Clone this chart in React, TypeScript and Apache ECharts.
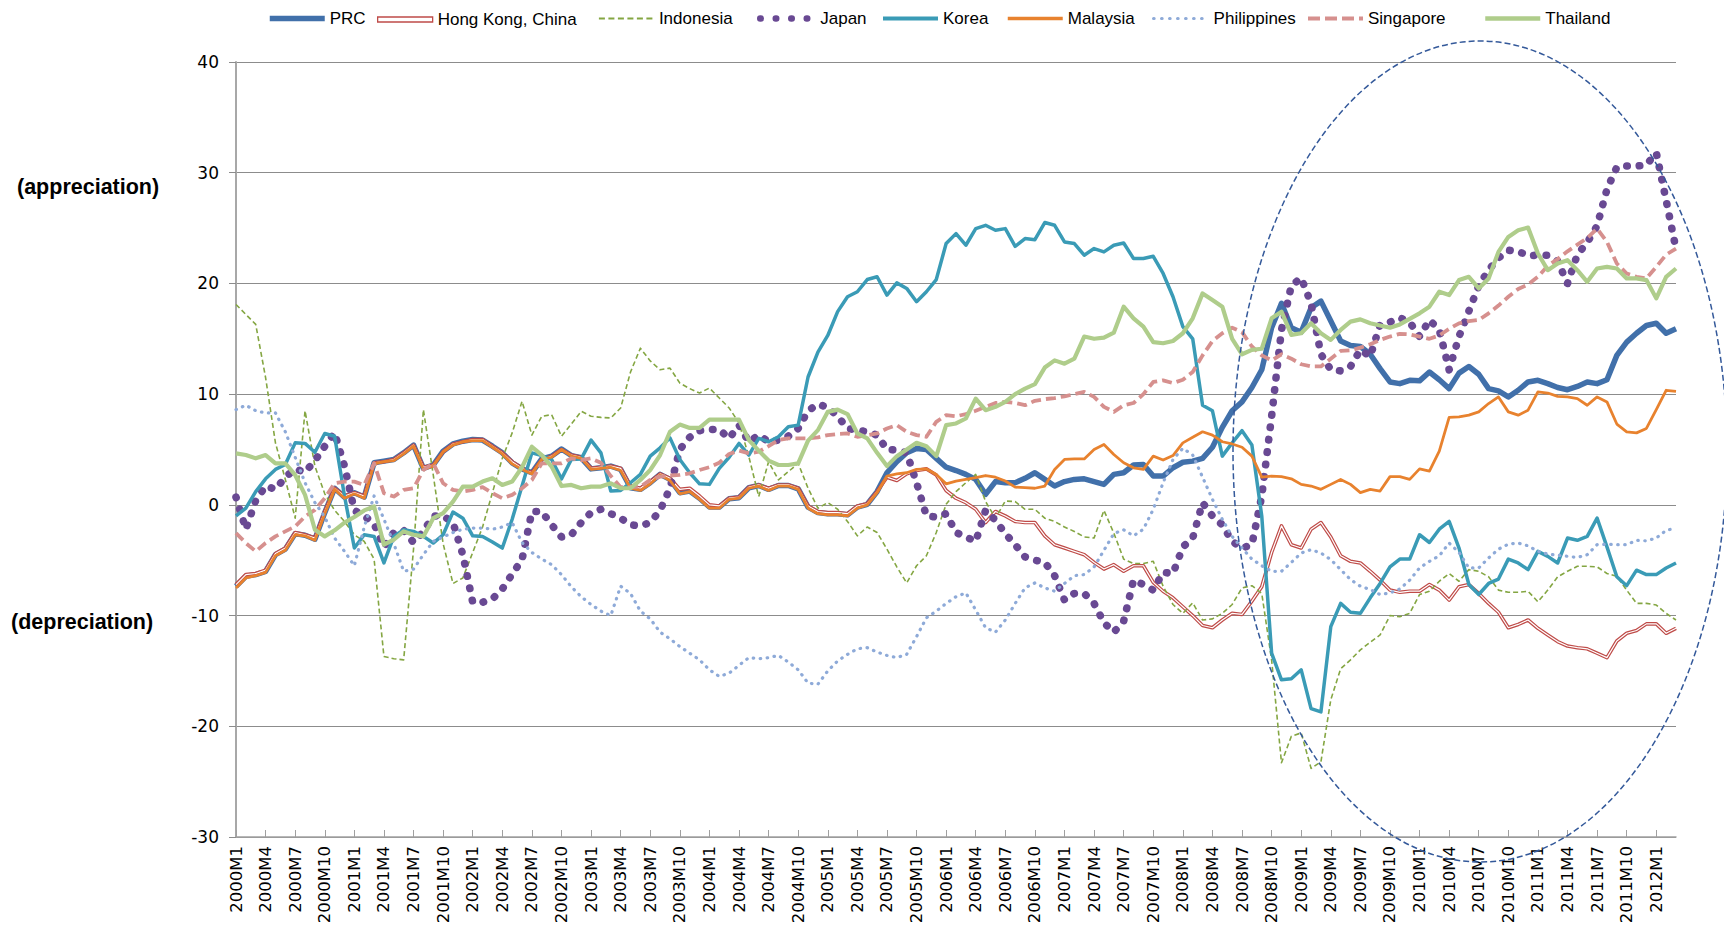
import React, { useEffect, useRef } from "react";
import * as echarts from "echarts";

// Monthly categories 2000M1 .. 2012M3
const MONTHS: string[] = [];
for (let y = 2000; y <= 2012; y++) {
  for (let m = 1; m <= 12; m++) {
    if (MONTHS.length < 147) MONTHS.push(`${y}M${m}`);
  }
}

const Y_TICKS = { min: -30, max: 40, interval: 10 };

// one row per year
const PRC = [
  -7.35, -6.45, -6.3, -6.0, -4.5, -4.0, -2.6, -2.75, -3.1, -0.7, 1.5, 0.7,
  1.1, 0.7, 3.8, 3.95, 4.1, 4.7, 5.4, 3.3, 3.6, 4.85, 5.5, 5.75,
  5.9, 5.85, 5.3, 4.7, 3.8, 3.25, 2.9, 4.15, 4.4, 5.05, 4.45, 4.25,
  3.25, 3.35, 3.5, 3.2, 1.55, 1.4, 2.0, 2.75, 2.3, 1.1, 1.25, 0.6,
  -0.2, -0.2, 0.55, 0.65, 1.55, 1.75, 1.4, 1.75, 1.75, 1.45, -0.2, -0.7,
  -0.8, -0.8, -0.9, -0.2, 0.05, 1.2, 2.9, 3.9, 4.7, 5.1, 5.0, 4.2,
  3.4, 3.1, 2.75, 2.3, 0.95, 2.1, 2.0, 2.0, 2.4, 2.9, 2.3, 1.7,
  2.1, 2.3, 2.35, 2.1, 1.85, 2.75, 2.9, 3.6, 3.65, 2.6, 2.6, 3.35,
  3.85, 3.95, 4.2, 5.2, 7.0, 8.5, 9.3, 10.6, 12.2, 16.0, 18.2, 16.0,
  15.6, 17.8, 18.4, 16.6, 14.8, 14.4, 14.3, 13.6, 12.3, 11.1, 10.95, 11.25,
  11.2, 12.0, 11.3, 10.5, 11.9, 12.5, 11.8, 10.5, 10.3, 9.75, 10.35, 11.1,
  11.25, 10.95, 10.6, 10.4, 10.7, 11.1, 10.95, 11.3, 13.5, 14.7, 15.5, 16.2,
  16.4, 15.5, 15.9,
];

const HONG_KONG = [
  -7.2, -6.3, -6.2, -5.9, -4.4, -3.9, -2.5, -2.7, -3.0, -0.6, 1.5, 0.8,
  1.1, 0.8, 3.8, 3.9, 4.1, 4.7, 5.4, 3.4, 3.6, 4.8, 5.5, 5.7,
  5.9, 5.9, 5.3, 4.7, 3.9, 3.3, 2.9, 4.1, 4.4, 5.0, 4.5, 4.3,
  3.3, 3.4, 3.5, 3.3, 1.7, 1.5, 2.1, 2.8, 2.4, 1.4, 1.5, 0.8,
  0.0, -0.1, 0.6, 0.7, 1.6, 1.8, 1.5, 1.8, 1.8, 1.5, -0.1, -0.6,
  -0.7, -0.7, -0.8, -0.1, 0.1, 1.2, 2.5, 2.2, 2.8, 3.1, 3.25, 2.7,
  1.3, 0.6, 0.2, -0.4, -1.6, -0.6, -1.0, -1.5, -1.6, -1.6, -2.8, -3.6,
  -3.9, -4.2, -4.5, -5.2, -5.8, -5.4, -6.0, -5.5, -5.5, -7.0, -7.8, -8.4,
  -9.2, -10.0, -10.9, -11.1, -10.4, -9.8, -9.9, -8.7, -7.4, -4.3, -1.9, -3.6,
  -3.9, -2.2, -1.6, -2.9, -4.6, -5.1, -5.25, -6.0, -6.8, -7.7, -7.9, -7.8,
  -7.8, -7.2, -7.7, -8.6, -7.4, -7.2, -8.0, -8.9, -9.7, -11.1, -10.8, -10.4,
  -11.15, -11.75, -12.35, -12.75, -12.9, -13.0, -13.4, -13.8, -12.3, -11.6, -11.35, -10.75,
  -10.75, -11.6, -11.15,
];

const INDONESIA = [
  18.1, 17.2, 16.3, 11.5, 5.6, 2.3, -1.2, 8.5, 3.5, 1.0, -0.5, -1.5,
  -2.7, -3.3, -4.9, -13.7, -13.9, -14.0, -4.0, 8.6, 2.7, -3.5, -7.1, -6.6,
  -4.3, -2.0, 1.1, 4.2, 6.5, 9.35, 6.3, 8.0, 8.15, 6.2, 7.3, 8.45,
  8.0, 7.9, 7.85, 8.75, 12.0, 14.15, 13.0, 12.2, 12.35, 11.0, 10.5, 10.1,
  10.55, 9.65, 8.75, 7.4, 4.35, 0.75, 3.9, 2.25, 3.0, 3.75, 1.5, -0.3,
  0.2, -0.4, -1.5, -2.8, -2.0, -2.5, -4.0, -5.6, -7.05, -5.5, -4.6, -2.5,
  0.05, 1.2, 2.0, 2.75, 0.3, -1.2, 0.35, 0.3, -0.4, -0.4, -1.2, -1.5,
  -2.0, -2.4, -2.9, -3.0, -0.5, -2.55, -4.9, -5.3, -5.3, -5.1, -7.35, -9.0,
  -9.8, -8.85, -10.4, -10.3, -9.8, -9.0, -7.5, -7.3, -8.0, -14.0, -23.3, -20.9,
  -20.6, -23.8, -23.2, -17.6, -14.8, -14.0, -13.1, -12.4, -11.75, -10.0, -10.1, -9.8,
  -8.1, -7.8, -6.9, -6.2, -6.9, -5.85, -6.0, -6.5, -7.7, -7.9, -7.9, -7.8,
  -8.75, -7.7, -6.5, -6.0, -5.55, -5.55, -5.6, -6.2, -6.45, -7.7, -8.9, -8.9,
  -9.05, -9.8, -10.4,
];

const JAPAN = [
  0.7, -2.2, 0.4, 1.7, 1.4, 2.5, 3.25, 2.95, 4.0, 5.3, 6.5, 3.5,
  -0.5, -1.0, -1.7, -3.8, -2.5, -2.3, -3.4, -2.4, -1.0, -1.0, -1.6, -4.5,
  -8.8, -8.8, -8.5, -7.6, -6.25, -4.95, -0.6, -0.6, -1.8, -2.9, -2.7, -1.6,
  -0.7, -0.4, -0.8, -1.2, -1.8, -1.9, -1.6, -0.5, 1.5, 5.0, 6.1, 6.7,
  6.8, 6.8, 6.0, 7.2, 5.7, 6.3, 5.7, 5.85, 6.2, 6.9, 8.5, 9.1,
  8.8, 8.0, 6.9, 6.75, 6.6, 6.3, 5.0, 4.95, 4.7, 2.0, -1.0, -1.1,
  -0.8, -2.5, -2.9, -3.3, -0.5, -1.4, -2.6, -3.6, -4.7, -5.0, -5.2, -6.4,
  -8.6, -8.0, -8.0, -8.9, -10.65, -11.5, -10.5, -6.8, -7.2, -7.7, -6.1, -6.2,
  -3.8, -3.0, 0.2, -1.0, -1.8, -3.3, -3.9, -3.6, 0.8, 8.0, 15.8, 19.8,
  20.5, 18.2, 13.6, 12.2, 12.1, 12.5, 14.0, 13.4, 16.3, 16.5, 16.9, 16.5,
  15.2, 16.7, 15.8, 12.2, 15.2, 17.5, 19.8, 21.2, 22.3, 23.0, 22.9, 22.5,
  22.55, 22.55, 22.0, 20.0, 22.6, 23.7, 25.2, 28.5, 30.5, 30.6, 30.6, 30.7,
  31.8, 27.5, 23.1,
];

const KOREA = [
  -1.0, -0.3, 1.2, 2.35, 3.2, 3.65, 5.6, 5.55, 4.75, 6.45, 6.2, 0.8,
  -3.9, -2.7, -2.85, -5.25, -2.85, -2.25, -2.4, -2.85, -3.45, -2.7, -0.65, -1.2,
  -2.8, -2.85, -3.35, -3.9, -1.3, 1.7, 4.7, 4.45, 4.1, 2.35, 4.1, 4.15,
  5.85, 4.7, 1.25, 1.3, 2.0, 2.75, 4.4, 5.15, 6.05, 4.1, 2.9, 1.9,
  1.85, 3.3, 4.3, 5.55, 4.5, 6.0, 5.7, 6.15, 7.05, 7.2, 11.55, 13.8,
  15.3, 17.45, 18.8, 19.25, 20.35, 20.6, 18.95, 20.05, 19.55, 18.35, 19.25, 20.35,
  23.6, 24.5, 23.45, 24.95, 25.25, 24.8, 24.95, 23.35, 24.05, 23.95, 25.5, 25.25,
  23.75, 23.6, 22.55, 23.15, 22.85, 23.45, 23.65, 22.25, 22.25, 22.45, 20.9, 18.8,
  16.1, 15.0, 9.0, 8.5, 4.4, 5.6, 6.7, 5.4, -1.0, -13.4, -15.8, -15.7,
  -14.9, -18.4, -18.7, -11.0, -8.9, -9.7, -9.8, -8.4, -7.1, -5.6, -4.9, -4.9,
  -2.7, -3.4, -2.2, -1.5, -3.9, -7.2, -8.1, -7.1, -6.7, -4.9, -5.25, -5.85,
  -4.2, -4.65, -5.25, -3.0, -3.2, -2.85, -1.2, -3.8, -6.5, -7.3, -5.9, -6.3,
  -6.3, -5.7, -5.25,
];

const MALAYSIA = [
  -7.5, -6.6, -6.4, -6.1, -4.6, -4.1, -2.7, -2.8, -3.2, -0.8, 1.4, 0.6,
  1.0, 0.6, 3.7, 3.9, 4.0, 4.6, 5.3, 3.2, 3.5, 4.8, 5.4, 5.7,
  5.8, 5.8, 5.2, 4.6, 3.7, 3.2, 2.8, 4.1, 4.3, 5.0, 4.4, 4.2,
  3.2, 3.3, 3.4, 3.1, 1.5, 1.3, 1.9, 2.7, 2.2, 1.0, 1.2, 0.5,
  -0.3, -0.3, 0.5, 0.6, 1.5, 1.7, 1.3, 1.7, 1.7, 1.4, -0.3, -0.8,
  -0.9, -0.9, -1.0, -0.3, 0.0, 1.1, 2.6, 2.8, 2.9, 3.2, 3.25, 2.75,
  1.9, 2.15, 2.3, 2.45, 2.65, 2.5, 2.15, 1.6, 1.55, 1.5, 1.7, 3.2,
  4.1, 4.15, 4.15, 5.0, 5.45, 4.55, 3.8, 3.35, 3.2, 4.4, 4.05, 4.45,
  5.6, 6.1, 6.6, 6.3, 5.7, 5.5, 5.2, 4.4, 2.5, 2.6, 2.55, 2.35,
  1.85, 1.7, 1.4, 1.85, 2.3, 1.85, 1.1, 1.4, 1.25, 2.55, 2.55, 2.3,
  3.25, 3.05, 4.85, 7.9, 7.95, 8.1, 8.4, 9.15, 9.75, 8.4, 8.1, 8.55,
  10.2, 10.1, 9.8, 9.75, 9.6, 9.0, 9.75, 9.3, 7.3, 6.6, 6.5, 6.9,
  8.6, 10.35, 10.25,
];

const PHILIPPINES = [
  8.6, 9.0, 8.5, 8.3, 8.3, 6.6, 4.3, 2.0, 0.2, -1.1, -3.0, -4.2,
  -5.5, -2.0, 0.8, -1.3, -3.5, -6.0, -5.8, -4.5, -3.3, -2.9, -2.5, -2.2,
  -2.1, -2.1, -2.2, -2.0, -1.6, -3.4, -4.3, -4.9, -5.4, -6.3, -7.4, -8.3,
  -9.0, -9.6, -10.0, -7.35, -8.0, -9.6, -10.3, -11.5, -12.1, -12.8, -13.4, -14.0,
  -14.9, -15.5, -15.2, -14.5, -13.8, -13.9, -13.8, -13.6, -14.2, -14.9, -16.1, -16.2,
  -15.0, -14.1, -13.5, -13.0, -12.9, -13.3, -13.6, -13.8, -13.5, -11.9, -10.2, -9.6,
  -8.9, -8.3, -7.95, -9.5, -11.1, -11.5, -10.4, -8.9, -7.5, -7.05, -7.5, -7.8,
  -7.1, -6.4, -6.3, -5.6, -4.1, -2.6, -2.25, -2.8, -2.2, -0.4, 2.0, 4.1,
  5.1, 4.5, 2.5, 0.5, -1.3, -2.85, -3.9, -4.9, -5.5, -6.0, -6.0, -5.2,
  -4.35, -4.05, -4.35, -4.95, -5.85, -6.75, -7.35, -7.65, -8.1, -7.95, -7.6, -6.8,
  -5.7, -5.1, -4.6, -3.45, -4.3, -5.7, -5.7, -4.8, -4.0, -3.55, -3.45, -3.7,
  -4.2, -4.45, -4.55, -4.65, -4.75, -4.5, -3.6, -3.55, -3.6, -3.6, -3.2, -3.25,
  -3.0, -2.3, -2.1,
];

const SINGAPORE = [
  -2.55, -3.45, -4.2, -3.45, -2.85, -2.4, -1.95, -1.05, -0.45, 0.6, 1.95, 2.1,
  2.1, 1.8, 3.75, 1.05, 0.75, 1.35, 1.5, 3.15, 3.75, 1.95, 1.35, 1.2,
  1.35, 1.6, 1.05, 0.6, 0.9, 1.5, 2.25, 3.75, 3.75, 3.75, 4.2, 4.05,
  4.2, 3.8, 2.6, 1.6, 1.6, 1.65, 2.25, 2.55, 2.65, 2.7, 2.85, 3.15,
  3.4, 3.8, 4.6, 4.9, 4.65, 4.8, 5.3, 5.85, 6.0, 6.0, 6.0, 6.1,
  6.3, 6.4, 6.45, 6.15, 6.3, 6.45, 6.9, 7.2, 6.6, 6.3, 6.15, 7.5,
  8.1, 8.0, 8.2, 8.5, 8.85, 9.2, 9.3, 9.2, 9.0, 9.4, 9.55, 9.65,
  9.8, 10.0, 10.2, 9.75, 8.85, 8.4, 9.0, 9.2, 10.0, 11.1, 11.25, 11.0,
  11.3, 12.0, 13.5, 14.8, 15.5, 16.0, 15.6, 14.3, 13.5, 13.05, 13.6, 13.2,
  12.7, 12.5, 12.5, 13.2, 13.9, 13.95, 14.2, 14.5, 14.9, 15.2, 15.45, 15.4,
  15.2, 15.0, 15.3, 15.9, 16.4, 16.6, 16.7, 17.3, 18.0, 18.8, 19.5, 19.9,
  20.6, 21.6, 22.2, 22.9, 23.5, 24.1, 24.95, 23.75, 21.8, 20.9, 20.6, 20.45,
  21.5, 22.6, 23.15,
];

const THAILAND = [
  4.65, 4.5, 4.2, 4.5, 3.75, 3.75, 2.7, 0.9, -2.25, -2.85, -2.3, -1.6,
  -1.1, -0.5, -0.15, -3.6, -3.15, -2.4, -2.7, -2.85, -1.2, -0.75, 0.3, 1.65,
  1.65, 2.1, 2.4, 1.8, 2.1, 3.4, 5.25, 4.5, 3.45, 1.7, 1.8, 1.5,
  1.65, 1.65, 1.95, 1.5, 1.5, 2.25, 3.15, 4.5, 6.6, 7.25, 6.95, 6.95,
  7.7, 7.7, 7.7, 7.7, 5.85, 4.9, 4.0, 3.6, 3.6, 3.75, 5.8, 6.75,
  8.4, 8.6, 8.2, 6.45, 6.0, 4.7, 3.5, 4.4, 5.0, 5.6, 5.3, 4.4,
  7.2, 7.35, 7.8, 9.6, 8.55, 8.85, 9.3, 10.0, 10.5, 10.9, 12.4, 13.05,
  12.75, 13.2, 15.2, 15.0, 15.1, 15.55, 17.9, 16.85, 16.1, 14.7, 14.6, 14.8,
  15.5, 16.85, 19.1, 18.5, 17.9, 15.0, 13.6, 14.0, 14.1, 16.85, 17.45, 15.35,
  15.5, 16.4, 15.5, 14.9, 15.8, 16.55, 16.75, 16.4, 16.2, 16.0, 16.3, 16.8,
  17.3, 17.9, 19.25, 18.95, 20.3, 20.6, 19.55, 20.45, 22.85, 24.2, 24.8, 25.05,
  22.7, 21.2, 21.8, 22.1, 21.2, 20.15, 21.35, 21.5, 21.35, 20.45, 20.45, 20.3,
  18.65, 20.6, 21.35,
];

const AXIS_FONT = "DejaVu Sans";
const LEGEND_FONT = "Liberation Sans";

type Def = {
  name: string;
  data: number[];
  color: string;
  width: number;
  type?: any;
  cap?: "butt" | "round";
  legendLeft: number;
  legendType?: any;
  legendWidth?: number;
};

const DEFS: Def[] = [
  { name: "PRC", data: PRC, color: "#4170aa", width: 5.5, legendLeft: 267 },
  { name: "Hong Kong, China", data: HONG_KONG, color: "#bf4b48", width: 3.6, legendLeft: 377 },
  { name: "Indonesia", data: INDONESIA, color: "#84a642", width: 1.6, type: [5, 3], legendLeft: 598, legendType: [6, 3.5], legendWidth: 1.8 },
  { name: "Japan", data: JAPAN, color: "#694993", width: 7.6, type: [0.5, 12], cap: "round", legendLeft: 757, legendType: [0.5, 15], legendWidth: 6.5 },
  { name: "Korea", data: KOREA, color: "#3a9bb6", width: 3.5, legendLeft: 881, legendWidth: 4 },
  { name: "Malaysia", data: MALAYSIA, color: "#e8822e", width: 2.8, legendLeft: 1006, legendWidth: 3.5 },
  { name: "Philippines", data: PHILIPPINES, color: "#8eaad8", width: 3.2, type: [0.5, 6.5], cap: "round", legendLeft: 1152, legendType: [0.5, 7.5], legendWidth: 3.2 },
  { name: "Singapore", data: SINGAPORE, color: "#d6908e", width: 3.8, type: [10, 5], legendLeft: 1306, legendType: [12, 5], legendWidth: 4 },
  { name: "Thailand", data: THAILAND, color: "#afcd8b", width: 4.2, legendLeft: 1483, legendWidth: 4.5 },
];

function buildOption(): any {
  const series: any[] = [];
  DEFS.forEach((d, idx) => {
    series.push({
      type: "line",
      name: d.name,
      data: d.data,
      symbol: "none",
      showSymbol: false,
      silent: true,
      emphasis: { disabled: true },
      itemStyle: { color: d.color },
      lineStyle: {
        color: d.color,
        width: d.width,
        type: d.type || "solid",
        cap: d.cap || "butt",
        join: "round",
      },
    });
    if (idx === 1) {
      // inner white stroke for the double line of Hong Kong, China
      series.push({
        type: "line",
        name: "HK-inner",
        data: d.data,
        symbol: "none",
        showSymbol: false,
        silent: true,
        emphasis: { disabled: true },
        itemStyle: { color: "#ffffff" },
        lineStyle: { color: "#ffffff", width: 1.2, join: "round" },
      });
    }
  });

  const legends = DEFS.map((d, idx) => {
    const base: any = {
      data: [d.name],
      left: d.legendLeft,
      top: 10,
      orient: "horizontal",
      itemWidth: 55,
      itemHeight: 18,
      itemGap: 0,
      padding: 0,
      selectedMode: false,
      textStyle: { fontFamily: LEGEND_FONT, fontSize: 17, color: "#000" },
    };
    if (idx === 1) {
      base.icon = "rect";
      base.itemHeight = 5;
      base.top = 11;
      base.itemStyle = { color: "#ffffff", borderColor: d.color, borderWidth: 1.3 };
    } else {
      base.itemStyle = { color: "transparent", opacity: 0, borderWidth: 0 };
      base.lineStyle = {
        color: d.color,
        width: d.legendWidth || d.width,
        type: d.legendType || d.type || "solid",
        cap: d.cap || "butt",
        opacity: 1,
      };
    }
    return base;
  });

  return {
    animation: false,
    backgroundColor: "#ffffff",
    grid: { left: 236, right: 48, top: 62, bottom: 98, containLabel: false },
    legend: legends,
    xAxis: {
      type: "category",
      data: MONTHS,
      boundaryGap: false,
      axisLine: { show: true, onZero: false, lineStyle: { color: "#a0a0a0", width: 1.5 } },
      axisTick: {
        show: true,
        inside: true,
        interval: 2,
        length: 7,
        lineStyle: { color: "#a0a0a0", width: 1 },
      },
      axisLabel: {
        interval: 2,
        rotate: 90,
        margin: 9,
        fontFamily: AXIS_FONT,
        fontSize: 16.5,
        color: "#000",
      },
      splitLine: { show: false },
    },
    yAxis: {
      type: "value",
      min: Y_TICKS.min,
      max: Y_TICKS.max,
      interval: Y_TICKS.interval,
      axisLine: { show: true, lineStyle: { color: "#a8a8a8", width: 2 } },
      axisTick: { show: true, inside: false, length: 7, lineStyle: { color: "#8c8c8c" } },
      axisLabel: { margin: 17, fontFamily: AXIS_FONT, fontSize: 17, color: "#000" },
      splitLine: { show: true, lineStyle: { color: "#8c8c8c", width: 1 } },
    },
    series,
    graphic: [
      {
        type: "text",
        x: 17,
        y: 187,
        style: {
          text: "(appreciation)",
          fontFamily: LEGEND_FONT,
          fontWeight: "bold",
          fontSize: 21.5,
          fill: "#000",
          verticalAlign: "middle",
        },
      },
      {
        type: "text",
        x: 11,
        y: 622,
        style: {
          text: "(depreciation)",
          fontFamily: LEGEND_FONT,
          fontWeight: "bold",
          fontSize: 21.5,
          fill: "#000",
          verticalAlign: "middle",
        },
      },
      {
        type: "ellipse",
        z: 100,
        shape: { cx: 1480, cy: 451.5, rx: 247, ry: 410.5 },
        style: { fill: "none", stroke: "#34599a", lineWidth: 1.5, lineDash: [6, 3] },
      },
    ],
  };
}

export default function App() {
  const ref = useRef<HTMLDivElement>(null);
  useEffect(() => {
    if (!ref.current) return;
    const chart = echarts.init(ref.current, undefined, { renderer: "svg" });
    chart.setOption(buildOption());
    return () => chart.dispose();
  }, []);
  return (
    <div
      ref={ref}
      style={{ position: "fixed", left: 0, top: 0, width: 1724, height: 935, background: "#fff" }}
    />
  );
}
